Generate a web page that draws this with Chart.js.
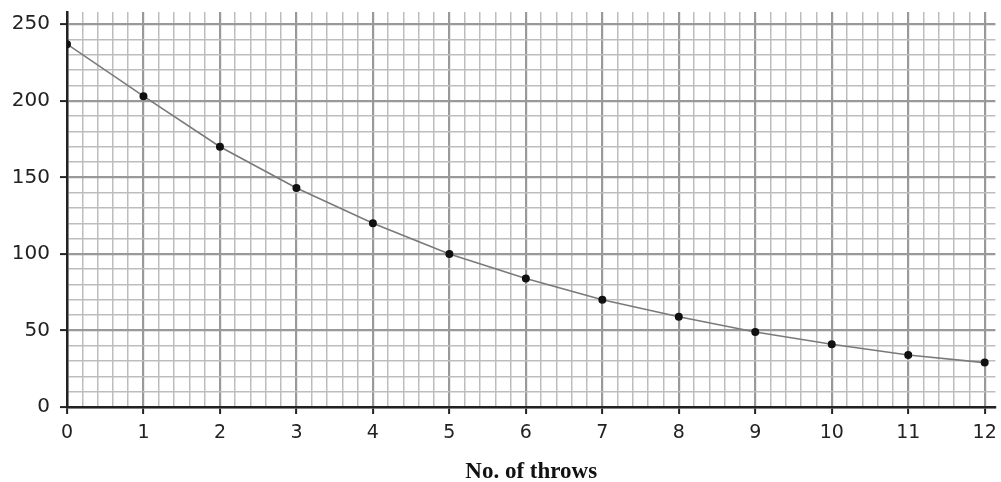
<!DOCTYPE html>
<html lang="en">
<head>
    <meta charset="UTF-8">
    <title>No. of throws</title>
    <script src="https://cdn.jsdelivr.net/npm/chart.js"></script>
    <style>
        body { margin: 0; padding: 0; background: #fff; }
        #wrap { width: 1001px; height: 482px; }
    </style>
</head>
<body>
    <div id="wrap"><canvas id="throwsChart"></canvas></div>

    <script>
        // values
        const throws = [0, 1, 2, 3, 4, 5, 6, 7, 8, 9, 10, 11, 12];
        const remaining = [237, 203, 170, 143, 120, 100, 84, 70, 59, 49, 41, 34, 29];
        const xTitle = 'No. of throws';

        const isWhole = (v, step) => Math.abs(v / step - Math.round(v / step)) < 1e-6;

        const ctx = document.getElementById('throwsChart').getContext('2d');
        new Chart(ctx, {
            type: 'scatter',
            data: {
                datasets: [{
                    data: throws.map((t, i) => ({ x: t, y: remaining[i] })),
                    showLine: true,
                    borderColor: '#7a7a7a',
                    borderWidth: 1.6,
                    pointBackgroundColor: '#111',
                    pointBorderColor: '#111',
                    pointRadius: 3.2,
                    tension: 0
                }]
            },
            options: {
                responsive: true,
                maintainAspectRatio: false,
                animation: false,
                layout: { padding: { top: 12, right: 0, left: 0, bottom: 0 } },
                plugins: { legend: { display: false }, tooltip: { enabled: false } },
                scales: {
                    x: {
                        type: 'linear',
                        min: 0,
                        max: 12.14,
                        afterFit: (s) => { s.height = 75; s.paddingRight = 0; s.paddingLeft = 0; },
                        border: { display: true, color: '#222', width: 2.5 },
                        grid: {
                            color: (c) => isWhole(c.tick.value, 1) ? '#999' : '#bdbdbd',
                            lineWidth: (c) => isWhole(c.tick.value, 1) ? 2.2 : 1.5,
                            drawTicks: true,
                            tickLength: 7,
                            tickColor: (c) => isWhole(c.tick.value, 1) ? '#222' : 'rgba(0,0,0,0)',
                            tickWidth: 2
                        },
                        ticks: {
                            stepSize: 0.2,
                            includeBounds: false,
                            autoSkip: false,
                            maxRotation: 0,
                            padding: 8,
                            color: '#222',
                            font: { family: 'DejaVu Sans', size: 19 },
                            callback: (v) => isWhole(v, 1) ? Math.round(v) : ''
                        },
                        title: {
                            display: true,
                            text: xTitle,
                            color: '#111',
                            font: { family: 'Liberation Serif, Times New Roman', size: 23, weight: 'bold', lineHeight: 0.9 },
                            padding: { top: 14, bottom: 0 }
                        }
                    },
                    y: {
                        type: 'linear',
                        min: 0,
                        max: 258,
                        afterFit: (s) => { s.width = 67; s.paddingTop = 0; s.paddingBottom = 0; },
                        border: { display: true, color: '#222', width: 2.5 },
                        grid: {
                            color: (c) => isWhole(c.tick.value, 50) ? '#999' : '#bdbdbd',
                            lineWidth: (c) => isWhole(c.tick.value, 50) ? 2.2 : 1.5,
                            drawTicks: true,
                            tickLength: 7,
                            tickColor: (c) => isWhole(c.tick.value, 50) ? '#222' : 'rgba(0,0,0,0)',
                            tickWidth: 2
                        },
                        ticks: {
                            stepSize: 10,
                            includeBounds: false,
                            autoSkip: false,
                            padding: 10,
                            color: '#222',
                            font: { family: 'DejaVu Sans', size: 20 },
                            callback: (v) => isWhole(v, 50) ? v : ''
                        }
                    }
                }
            }
        });
    </script>
</body>
</html>
